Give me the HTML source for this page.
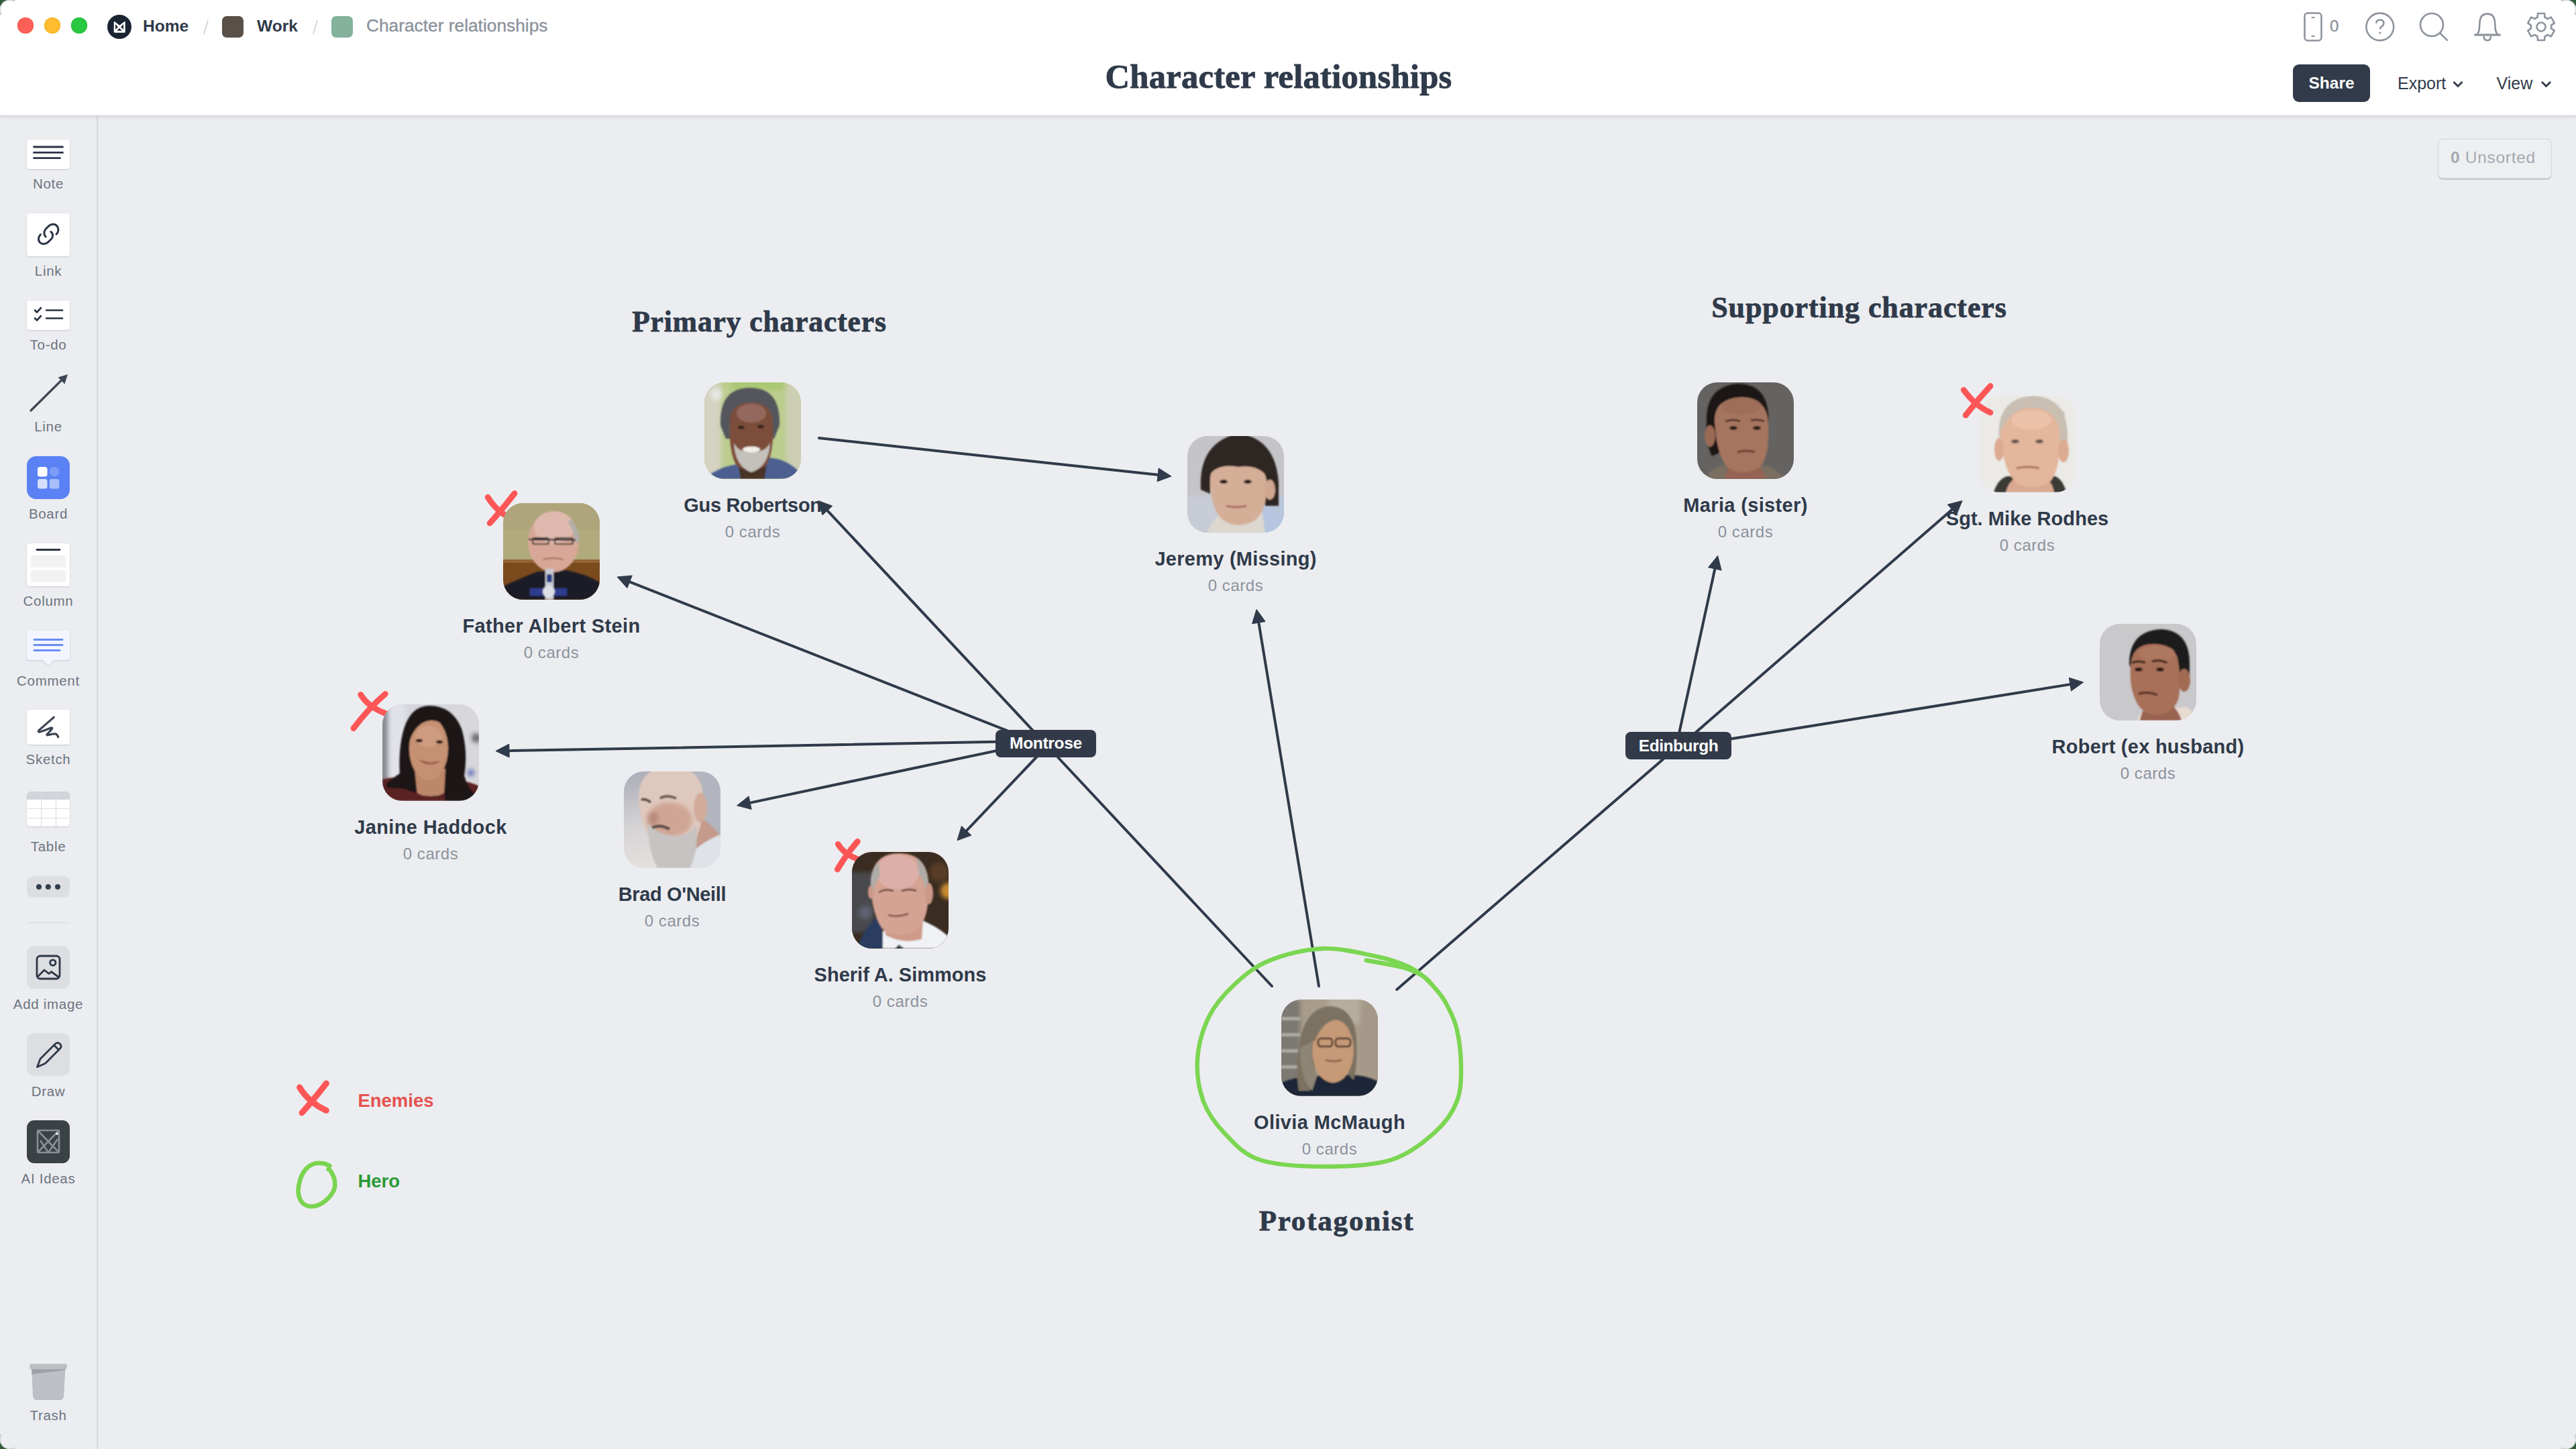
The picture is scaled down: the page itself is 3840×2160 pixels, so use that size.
<!DOCTYPE html>
<html><head><meta charset="utf-8"><title>Character relationships</title><style>
*{margin:0;padding:0;box-sizing:border-box}
html,body{width:3840px;height:2160px;overflow:hidden;background:#2f5d35}
#win{position:absolute;left:0;top:0;width:3840px;height:2160px;border-radius:14px;overflow:hidden;background:#ecedf0}
#wb{position:absolute;left:0;top:0;z-index:50;pointer-events:none}
#header{position:absolute;left:0;top:0;width:3840px;height:172px;background:#fff;box-shadow:0 1px 0 #cdd0d4, 0 2px 5px rgba(60,70,90,0.14);z-index:5}
#sidebar{position:absolute;left:0;top:0;width:146px;height:2160px;z-index:4}
#sbbg{position:absolute;left:0;top:172px;width:146px;height:1988px;background:#ecedf0;border-right:2px solid #d8d9dd;z-index:3}
#sidebar > div, #sidebar > svg{position:absolute}
.t{position:absolute;white-space:nowrap}
.ph{position:absolute;width:144px;height:144px;border-radius:30px;overflow:hidden}
.ph svg{display:block}
</style></head>
<body><div id="win">
<div id="sbbg"></div>
<div id="header">
<div style="position:absolute;left:26px;top:26px;width:24px;height:24px;border-radius:50%;background:#fe5f57;box-shadow:inset 0 0 0 0.5px #e2463f"></div>
<div style="position:absolute;left:66px;top:26px;width:24px;height:24px;border-radius:50%;background:#febc2e;box-shadow:inset 0 0 0 0.5px #e1a116"></div>
<div style="position:absolute;left:106px;top:26px;width:24px;height:24px;border-radius:50%;background:#28c840;box-shadow:inset 0 0 0 0.5px #1aab29"></div>
<div style="position:absolute;left:160px;top:22px;width:36px;height:36px;border-radius:50%;background:#1b2433"></div>
<svg style="position:absolute;left:156px;top:18px" width="44" height="44" viewBox="0 0 44 44"><path d="M14.6 14.2 L22.2 20 L29.8 14.2 Q30.4 14 30.4 15 L30.4 29.4 Q30.4 30.4 29.4 30.4 L15 30.4 Q14 30.4 14 29.4 L14 15 Q14 14 14.6 14.2 Z" fill="#fff" stroke="#fff" stroke-width="0.6" stroke-linejoin="round"/><path d="M16.1 17.9 L19.8 22.2 L16.1 26.1 Z M27.9 17.9 L24.2 22.2 L27.9 26.1 Z M18.2 27.7 L22 24 L25.8 27.7 Z" fill="#1b2433"/></svg>
<div class="t" style="left:213px;top:24.11px;font-size:24.5px;line-height:29.40px;color:#2f3a4a;font-weight:700;font-family:'Liberation Sans', sans-serif;letter-spacing:0px;">Home</div>
<svg style="position:absolute;left:300px;top:28px" width="14" height="26"><line x1="10" y1="2" x2="4" y2="23" stroke="#c9cdd3" stroke-width="1.6"/></svg>
<div style="position:absolute;left:331px;top:24px;width:32px;height:32px;border-radius:7px;background:#595048"></div>
<div class="t" style="left:383px;top:24.11px;font-size:24.5px;line-height:29.40px;color:#2f3a4a;font-weight:700;font-family:'Liberation Sans', sans-serif;letter-spacing:0px;">Work</div>
<svg style="position:absolute;left:463px;top:28px" width="14" height="26"><line x1="10" y1="2" x2="4" y2="23" stroke="#c9cdd3" stroke-width="1.6"/></svg>
<div style="position:absolute;left:494px;top:24px;width:32px;height:32px;border-radius:7px;background:#84b29b"></div>
<div class="t" style="left:546px;top:22.61px;font-size:26.3px;line-height:31.56px;color:#8b929c;font-weight:400;font-family:'Liberation Sans', sans-serif;letter-spacing:0px;-webkit-text-stroke:0.35px #8b929c;">Character relationships</div>
<div class="t" style="left:406px;width:3000px;text-align:center;top:83.96px;font-size:50.5px;line-height:60.60px;color:#2f3a4a;font-weight:700;font-family:'Liberation Serif', serif;letter-spacing:0.3px;-webkit-text-stroke:0.9px #2f3a4a;">Character relationships</div>
<svg style="position:absolute;left:3420px;top:10px" width="400" height="60" viewBox="3420 10 400 60">
<rect x="3435.5" y="19.5" width="25" height="41" rx="4.5" fill="none" stroke="#8d939c" stroke-width="2.6"/>
<line x1="3445.5" y1="26.2" x2="3450.5" y2="26.2" stroke="#8d939c" stroke-width="2"/>
<line x1="3445.5" y1="54" x2="3450.5" y2="54" stroke="#8d939c" stroke-width="2"/>
<circle cx="3547.8" cy="40" r="20.4" fill="none" stroke="#8d939c" stroke-width="2.6"/>
<path d="M3542.2 34.8 Q3542.6 29.6 3547.9 29.6 Q3553.4 29.8 3553.4 34.6 Q3553.2 38.2 3549.6 39.9 Q3548 40.8 3548 43.6" fill="none" stroke="#8d939c" stroke-width="2.5"/>
<circle cx="3547.9" cy="49" r="1.6" fill="#8d939c"/>
<circle cx="3625" cy="37" r="17" fill="none" stroke="#8d939c" stroke-width="2.6"/>
<line x1="3637.3" y1="49.3" x2="3648.6" y2="60.6" stroke="#8d939c" stroke-width="2.6"/>
<path d="M3692.5 51.5 Q3696 47 3696 40 L3696.6 32 Q3697.6 20.6 3707.8 20.6 Q3718 20.6 3719 32 L3719.6 40 Q3719.6 47 3723.2 51.5" fill="none" stroke="#8d939c" stroke-width="2.6" stroke-linejoin="round"/>
<rect x="3688.2" y="50.4" width="39.6" height="3.2" fill="#8d939c"/>
<path d="M3702.6 54 Q3702.6 60.2 3707.8 60.2 Q3713 60.2 3713 54" fill="none" stroke="#8d939c" stroke-width="2.6"/>
<g transform="translate(3788 40)">
<path d="M-5.45 -14.19 L-4.98 -19.99 L4.98 -19.99 L5.45 -14.19 A15.2 15.2 0 0 1 9.57 -11.81 L14.82 -14.31 L19.80 -5.68 L15.01 -2.38 A15.2 15.2 0 0 1 15.01 2.38 L19.80 5.68 L14.82 14.31 L9.57 11.81 A15.2 15.2 0 0 1 5.45 14.19 L4.98 19.99 L-4.98 19.99 L-5.45 14.19 A15.2 15.2 0 0 1 -9.57 11.81 L-14.82 14.31 L-19.80 5.68 L-15.01 2.38 A15.2 15.2 0 0 1 -15.01 -2.38 L-19.80 -5.68 L-14.82 -14.31 L-9.57 -11.81 A15.2 15.2 0 0 1 -5.45 -14.19 Z" fill="none" stroke="#8d939c" stroke-width="2.6" stroke-linejoin="round"/>
<circle cx="0" cy="0" r="6.5" fill="none" stroke="#8d939c" stroke-width="2.6"/>
</g>
</svg>
<div class="t" style="left:3473px;top:25.28px;font-size:24px;line-height:28.80px;color:#8d939c;font-weight:400;font-family:'Liberation Sans', sans-serif;letter-spacing:0px;-webkit-text-stroke:0.4px #8d939c;">0</div>
<div style="position:absolute;left:3418px;top:96px;width:115px;height:56px;border-radius:9px;background:#323b4a"></div>
<div class="t" style="left:1975.5px;width:3000px;text-align:center;top:109.11px;font-size:24.5px;line-height:29.40px;color:#ffffff;font-weight:700;font-family:'Liberation Sans', sans-serif;letter-spacing:0px;">Share</div>
<div class="t" style="left:3574px;top:108.64px;font-size:25px;line-height:30.00px;color:#2f3a4a;font-weight:400;font-family:'Liberation Sans', sans-serif;letter-spacing:0px;">Export</div>
<div class="t" style="left:3721.5px;top:108.64px;font-size:25px;line-height:30.00px;color:#2f3a4a;font-weight:400;font-family:'Liberation Sans', sans-serif;letter-spacing:0px;">View</div>
<svg style="position:absolute;left:3650px;top:115px" width="160" height="24" viewBox="3650 115 160 24"><path d="M3657.5 122 L3664 128.5 L3670.5 122" fill="none" stroke="#2f3a4a" stroke-width="2.8"/><path d="M3789 122 L3795.5 128.5 L3802 122" fill="none" stroke="#2f3a4a" stroke-width="2.8"/></svg>
</div>
<div id="sidebar">
<div style="position:absolute;left:40px;top:208px;width:64px;height:44px;border-radius:4px;background:#fff;box-shadow:0 1px 2px rgba(40,50,70,0.18), 0 0 0 0.5px rgba(40,50,70,0.05);"></div>
<svg style="position:absolute;left:40px;top:208px" width="64" height="44"><g stroke="#2a3444" stroke-width="2.8" stroke-linecap="round"><line x1="10.5" y1="11" x2="53.5" y2="11"/><line x1="10.5" y1="19.4" x2="53.5" y2="19.4"/><line x1="10.5" y1="27.6" x2="49.5" y2="27.6"/></g></svg>
<div class="t" style="left:-1428px;width:3000px;text-align:center;top:261.60px;font-size:20.5px;line-height:24.60px;color:#6b7380;font-weight:400;font-family:'Liberation Sans', sans-serif;letter-spacing:0.7px;">Note</div>
<div style="position:absolute;left:40px;top:318px;width:64px;height:64px;border-radius:4px;background:#fff;box-shadow:0 1px 2px rgba(40,50,70,0.18), 0 0 0 0.5px rgba(40,50,70,0.05);"></div>
<svg style="position:absolute;left:40px;top:318px" width="64" height="64" viewBox="0 0 64 64"><g fill="none" stroke="#2a3444" stroke-width="3" stroke-linecap="round"><path d="M28.2 35 C25 31.5 25 26.5 28.5 23 L33 18.7 C36.5 15.5 42 15.5 45 19 C48 22.5 47.5 28 44 31.2"/><path d="M20.5 31.5 C17 35 16.5 40.5 19.5 43.5 C22.5 46.5 28 46.5 31.5 43.2 L36 38.8 C39.5 35.5 39.5 30 35.8 27.6"/></g></svg>
<div class="t" style="left:-1428px;width:3000px;text-align:center;top:392.10px;font-size:20.5px;line-height:24.60px;color:#6b7380;font-weight:400;font-family:'Liberation Sans', sans-serif;letter-spacing:0.7px;">Link</div>
<div style="position:absolute;left:40px;top:448px;width:64px;height:44px;border-radius:4px;background:#fff;box-shadow:0 1px 2px rgba(40,50,70,0.18), 0 0 0 0.5px rgba(40,50,70,0.05);"></div>
<svg style="position:absolute;left:40px;top:448px" width="64" height="44" viewBox="0 0 64 44"><g fill="none" stroke="#2a3444" stroke-width="2.6" stroke-linecap="round" stroke-linejoin="round"><path d="M12 14.5 L15 17.5 L21 11"/><path d="M12 26.5 L15 29.5 L21 23"/><line x1="29" y1="14.5" x2="53" y2="14.5"/><line x1="29" y1="26.5" x2="53" y2="26.5"/></g></svg>
<div class="t" style="left:-1428px;width:3000px;text-align:center;top:501.60px;font-size:20.5px;line-height:24.60px;color:#6b7380;font-weight:400;font-family:'Liberation Sans', sans-serif;letter-spacing:0.7px;">To-do</div>
<svg style="position:absolute;left:40px;top:550px" width="64" height="70" viewBox="40 550 64 70"><line x1="46" y1="612" x2="94" y2="564.5" stroke="#3d4654" stroke-width="3.2" stroke-linecap="round"/><path d="M101 558 L86.6 562.6 L96.4 572.4 Z" fill="#3d4654"/></svg>
<div class="t" style="left:-1428px;width:3000px;text-align:center;top:623.60px;font-size:20.5px;line-height:24.60px;color:#6b7380;font-weight:400;font-family:'Liberation Sans', sans-serif;letter-spacing:0.7px;">Line</div>
<div style="position:absolute;left:40px;top:680px;width:64px;height:64px;border-radius:14px;background:#5a82f5;"></div>
<svg style="position:absolute;left:40px;top:680px" width="64" height="64"><rect x="16" y="16" width="14.5" height="14.5" rx="3.5" fill="#fff"/><circle cx="41" cy="23.2" r="7.2" fill="#7d9cf7"/><rect x="16" y="34" width="14.5" height="14.5" rx="3.5" fill="#d5defd"/><rect x="33.8" y="34" width="14.5" height="14.5" rx="3.5" fill="#aabffa"/></svg>
<div class="t" style="left:-1428px;width:3000px;text-align:center;top:753.60px;font-size:20.5px;line-height:24.60px;color:#6b7380;font-weight:400;font-family:'Liberation Sans', sans-serif;letter-spacing:0.7px;">Board</div>
<div style="position:absolute;left:40px;top:810px;width:64px;height:64px;border-radius:4px;background:#fff;box-shadow:0 1px 2px rgba(40,50,70,0.18), 0 0 0 0.5px rgba(40,50,70,0.05);"></div>
<svg style="position:absolute;left:40px;top:810px" width="64" height="64"><line x1="15" y1="9.5" x2="49" y2="9.5" stroke="#2a3444" stroke-width="2.8" stroke-linecap="round"/><rect x="6" y="18" width="52" height="18" fill="#f2f2f3"/><rect x="6" y="40" width="52" height="18" fill="#f2f2f3"/></svg>
<div class="t" style="left:-1428px;width:3000px;text-align:center;top:884.10px;font-size:20.5px;line-height:24.60px;color:#6b7380;font-weight:400;font-family:'Liberation Sans', sans-serif;letter-spacing:0.7px;">Column</div>
<svg style="position:absolute;left:36px;top:936px" width="72" height="60" viewBox="36 936 72 60"><defs><filter id="cs" x="-20%" y="-20%" width="140%" height="150%"><feDropShadow dx="0" dy="1" stdDeviation="0.8" flood-color="#283246" flood-opacity="0.2"/></filter></defs><path d="M45 940 L99 940 Q104 940 104 945 L104 979 Q104 984 99 984 L80 984 L72 992 L64 984 L45 984 Q40 984 40 979 L40 945 Q40 940 45 940 Z" fill="#f3f6fe" filter="url(#cs)"/><g stroke="#6a8ef4" stroke-width="2.8" stroke-linecap="round"><line x1="51" y1="953.5" x2="93" y2="953.5"/><line x1="51" y1="961.5" x2="93" y2="961.5"/><line x1="51" y1="969.5" x2="89" y2="969.5"/></g></svg>
<div class="t" style="left:-1428px;width:3000px;text-align:center;top:1002.60px;font-size:20.5px;line-height:24.60px;color:#6b7380;font-weight:400;font-family:'Liberation Sans', sans-serif;letter-spacing:0.7px;">Comment</div>
<div style="position:absolute;left:40px;top:1058px;width:64px;height:52px;border-radius:4px;background:#fff;box-shadow:0 1px 2px rgba(40,50,70,0.18), 0 0 0 0.5px rgba(40,50,70,0.05);"></div>
<svg style="position:absolute;left:40px;top:1058px" width="64" height="52" viewBox="0 0 64 52"><path d="M40.4 11.1 L18 30.6 Q15.8 33.6 19.6 33 Q28 30.4 36.6 26.8 Q38.8 26.6 36.8 29.4 L29.8 37 Q29.6 38.4 33 37.4 Q40 35.6 43 36 Q45.4 37 46.8 40.8" fill="none" stroke="#3b4452" stroke-width="3.2" stroke-linecap="round" stroke-linejoin="round"/></svg>
<div class="t" style="left:-1428px;width:3000px;text-align:center;top:1120.00px;font-size:20.5px;line-height:24.60px;color:#6b7380;font-weight:400;font-family:'Liberation Sans', sans-serif;letter-spacing:0.7px;">Sketch</div>
<div style="position:absolute;left:40px;top:1180px;width:64px;height:52px;border-radius:5px;background:#fff;overflow:hidden;box-shadow:0 1px 2px rgba(40,50,70,0.2)"><div style="position:absolute;left:0;top:0;width:64px;height:12px;background:#d1d4d9"></div><div style="position:absolute;left:20.5px;top:0;width:1px;height:52px;background:#dcdee2"></div><div style="position:absolute;left:42.8px;top:0;width:1px;height:52px;background:#dcdee2"></div><div style="position:absolute;left:0;top:25px;width:64px;height:1px;background:#dcdee2"></div><div style="position:absolute;left:0;top:38.5px;width:64px;height:1px;background:#dcdee2"></div></div>
<div class="t" style="left:-1428px;width:3000px;text-align:center;top:1249.60px;font-size:20.5px;line-height:24.60px;color:#6b7380;font-weight:400;font-family:'Liberation Sans', sans-serif;letter-spacing:0.7px;">Table</div>
<div style="position:absolute;left:40px;top:1306px;width:64px;height:32px;border-radius:9px;background:#dcdee2"></div>
<svg style="position:absolute;left:40px;top:1306px" width="64" height="32"><g fill="#343d4b"><circle cx="18" cy="16" r="4"/><circle cx="31.8" cy="16" r="4"/><circle cx="46" cy="16" r="4"/></g></svg>
<div style="position:absolute;left:40px;top:1374.5px;width:64px;height:1.5px;background:#d6d9dd"></div>
<div style="position:absolute;left:40px;top:1410px;width:64px;height:64px;border-radius:11px;background:#dcdee2"></div>
<svg style="position:absolute;left:40px;top:1410px" width="64" height="64" viewBox="0 0 64 64"><g fill="none" stroke="#2f3846" stroke-width="2.8" stroke-linejoin="round"><rect x="15" y="15" width="34" height="34" rx="5"/><circle cx="38.8" cy="25" r="4.2"/><path d="M16 46 L26 36 L33 41.5 L36.5 38.5 L48 47"/></g></svg>
<div class="t" style="left:-1428px;width:3000px;text-align:center;top:1484.60px;font-size:20.5px;line-height:24.60px;color:#6b7380;font-weight:400;font-family:'Liberation Sans', sans-serif;letter-spacing:0.7px;">Add image</div>
<div style="position:absolute;left:40px;top:1540px;width:64px;height:64px;border-radius:11px;background:#dcdee2"></div>
<svg style="position:absolute;left:40px;top:1540px" width="64" height="64" viewBox="0 0 64 64"><g fill="none" stroke="#2f3846" stroke-width="2.8" stroke-linejoin="round"><path d="M15.5 50.5 L20 38.5 L42.5 16 Q46 13 49.5 16.2 Q52.6 19.6 49.6 23 L27.5 45.2 Z"/><line x1="40.5" y1="18" x2="47.6" y2="25"/></g></svg>
<div class="t" style="left:-1428px;width:3000px;text-align:center;top:1614.60px;font-size:20.5px;line-height:24.60px;color:#6b7380;font-weight:400;font-family:'Liberation Sans', sans-serif;letter-spacing:0.7px;">Draw</div>
<div style="position:absolute;left:40px;top:1670px;width:64px;height:64px;border-radius:11px;background:#3a4245"></div>
<svg style="position:absolute;left:40px;top:1670px" width="64" height="64" viewBox="0 0 64 64"><g fill="none" stroke="#8a8f96" stroke-width="2.6"><rect x="16" y="15" width="32" height="33" rx="1.5"/><path d="M16 15 L48 48 M48 15 L16 48 M32 48 L20 30 M32 48 L46 28"/></g><circle cx="45" cy="20" r="1.8" fill="#fff"/></svg>
<div class="t" style="left:-1428px;width:3000px;text-align:center;top:1745.20px;font-size:20.5px;line-height:24.60px;color:#6b7380;font-weight:400;font-family:'Liberation Sans', sans-serif;letter-spacing:0.7px;">AI Ideas</div>
<svg style="position:absolute;left:40px;top:2028px" width="64" height="64" viewBox="40 2028 64 64"><rect x="44.2" y="2033" width="55.6" height="8" rx="1.8" fill="#bdbfc4"/><path d="M47 2041 L97.3 2041 L95.2 2081 Q94.8 2087 88.8 2087 L55.5 2087 Q49.5 2087 49.1 2081 Z" fill="#bdbfc4"/><path d="M47 2041 L97.3 2041 L97.2 2042.5 L47.4 2048.5 Z" fill="#9da2aa"/></svg>
<div class="t" style="left:-1428px;width:3000px;text-align:center;top:2097.60px;font-size:20.5px;line-height:24.60px;color:#6b7380;font-weight:400;font-family:'Liberation Sans', sans-serif;letter-spacing:0.7px;">Trash</div>
</div>
<div id="canvas"></div>
<div style="position:absolute;left:3635px;top:208px;width:168px;height:57px;border-radius:6px;background:#eeeff1;box-shadow:0 0 0 1.2px #d6d8dc, 0 2.5px 0 0.5px #c4c7cc"></div>
<div class="t" style="left:3653px;top:219.81px;font-size:24.5px;line-height:29.40px;color:#a4a9b1;font-weight:400;font-family:'Liberation Sans', sans-serif;letter-spacing:0.7px;"><b style="font-weight:700">0</b> Unsorted</div>
<div class="t" style="left:-368px;width:3000px;text-align:center;top:453.22px;font-size:43.5px;line-height:52.20px;color:#2f3a4a;font-weight:700;font-family:'Liberation Serif', serif;letter-spacing:0.9px;-webkit-text-stroke:0.8px #2f3a4a;">Primary characters</div>
<div class="t" style="left:1271.5px;width:3000px;text-align:center;top:433.05px;font-size:44px;line-height:52.80px;color:#2f3a4a;font-weight:700;font-family:'Liberation Serif', serif;letter-spacing:0.9px;-webkit-text-stroke:0.8px #2f3a4a;">Supporting characters</div>
<div class="t" style="left:492.5px;width:3000px;text-align:center;top:1793.89px;font-size:43px;line-height:51.60px;color:#2f3a4a;font-weight:700;font-family:'Liberation Serif', serif;letter-spacing:1.8px;-webkit-text-stroke:0.8px #2f3a4a;">Protagonist</div>
<svg style="position:absolute;left:0;top:0;z-index:1" width="3840" height="2160" viewBox="0 0 3840 2160">
<path d="M727.2 741.3 Q740.9 763.9 767.0 775.8" fill="none" stroke="#fd5657" stroke-width="8.8" stroke-linecap="round"/><path d="M767.0 735.5 Q746.4 762.1 730.2 779.9" fill="none" stroke="#fd5657" stroke-width="8.8" stroke-linecap="round"/><path d="M537.7 1035.5 Q549.1 1054.2 576.0 1064.0" fill="none" stroke="#fd5657" stroke-width="8.8" stroke-linecap="round"/><path d="M574.4 1034.5 Q549.3 1055.9 527.0 1085.7" fill="none" stroke="#fd5657" stroke-width="8.8" stroke-linecap="round"/><path d="M1249.3 1258.4 Q1258.3 1273.8 1282.0 1282.0" fill="none" stroke="#fd5657" stroke-width="8.8" stroke-linecap="round"/><path d="M1278.3 1254.5 Q1260.7 1274.8 1248.3 1296.0" fill="none" stroke="#fd5657" stroke-width="8.8" stroke-linecap="round"/>
<line x1="1221" y1="653" x2="1728.1" y2="708.1" stroke="#2f3a4a" stroke-width="4" stroke-linecap="round"/>
<path d="M1746 710 L1725.0 717.8 L1727.2 697.9 Z" fill="#2f3a4a" stroke="#2f3a4a" stroke-width="1" stroke-linejoin="round"/>
<line x1="1558.5" y1="1109" x2="1232.0" y2="759.6" stroke="#2f3a4a" stroke-width="4" stroke-linecap="round"/>
<path d="M1219.75 746.4 L1240.7 754.2 L1226.1 767.8 Z" fill="#2f3a4a" stroke="#2f3a4a" stroke-width="1" stroke-linejoin="round"/>
<line x1="1559" y1="1111.8" x2="936.7" y2="866.6" stroke="#2f3a4a" stroke-width="4" stroke-linecap="round"/>
<path d="M920 860 L942.3 858.0 L934.9 876.6 Z" fill="#2f3a4a" stroke="#2f3a4a" stroke-width="1" stroke-linejoin="round"/>
<line x1="1559" y1="1104.4" x2="757.0" y2="1119.2" stroke="#2f3a4a" stroke-width="4" stroke-linecap="round"/>
<path d="M739 1119.5 L758.8 1109.1 L759.2 1129.1 Z" fill="#2f3a4a" stroke="#2f3a4a" stroke-width="1" stroke-linejoin="round"/>
<line x1="1559" y1="1103.5" x2="1116.2" y2="1197.1" stroke="#2f3a4a" stroke-width="4" stroke-linecap="round"/>
<path d="M1098.6 1200.8 L1116.1 1186.9 L1120.2 1206.4 Z" fill="#2f3a4a" stroke="#2f3a4a" stroke-width="1" stroke-linejoin="round"/>
<line x1="1563.7" y1="1109" x2="1439.3" y2="1239.8" stroke="#2f3a4a" stroke-width="4" stroke-linecap="round"/>
<path d="M1426.9 1252.8 L1433.4 1231.4 L1447.9 1245.2 Z" fill="#2f3a4a" stroke="#2f3a4a" stroke-width="1" stroke-linejoin="round"/>
<line x1="1896" y1="1470" x2="1558.4" y2="1109" stroke="#2f3a4a" stroke-width="4" stroke-linecap="round"/>
<line x1="1966" y1="1470" x2="1876.0" y2="926.2" stroke="#2f3a4a" stroke-width="4" stroke-linecap="round"/>
<path d="M1873.1 908.4 L1886.2 926.5 L1866.5 929.8 Z" fill="#2f3a4a" stroke="#2f3a4a" stroke-width="1" stroke-linejoin="round"/>
<line x1="2082.3" y1="1475.1" x2="2502" y2="1112" stroke="#2f3a4a" stroke-width="4" stroke-linecap="round"/>
<line x1="2498.9" y1="1112" x2="2556.8" y2="846.0" stroke="#2f3a4a" stroke-width="4" stroke-linecap="round"/>
<path d="M2560.6 828.4 L2566.1 850.1 L2546.6 845.8 Z" fill="#2f3a4a" stroke="#2f3a4a" stroke-width="1" stroke-linejoin="round"/>
<line x1="2504.6" y1="1112" x2="2911.4" y2="758.3" stroke="#2f3a4a" stroke-width="4" stroke-linecap="round"/>
<path d="M2925 746.5 L2916.5 767.2 L2903.3 752.1 Z" fill="#2f3a4a" stroke="#2f3a4a" stroke-width="1" stroke-linejoin="round"/>
<line x1="2502" y1="1114" x2="3087.9" y2="1019.9" stroke="#2f3a4a" stroke-width="4" stroke-linecap="round"/>
<path d="M3105.7 1017 L3087.5 1030.0 L3084.4 1010.3 Z" fill="#2f3a4a" stroke="#2f3a4a" stroke-width="1" stroke-linejoin="round"/>
<path d="M2036.4 1431.5 C2045.4 1433.2 2076.4 1438.0 2090.6 1442.0 C2104.8 1446.0 2113.6 1450.2 2121.5 1455.2 C2129.4 1460.2 2132.5 1465.3 2138.0 1471.8 C2143.5 1478.2 2149.1 1483.8 2154.6 1493.9 C2160.1 1504.0 2167.3 1516.5 2171.2 1532.5 C2175.1 1548.5 2177.9 1571.8 2178.0 1590.0 C2178.1 1608.2 2178.0 1625.9 2171.7 1642.0 C2165.4 1658.1 2156.2 1672.3 2140.0 1686.8 C2123.8 1701.3 2101.8 1720.1 2074.7 1728.8 C2047.6 1737.5 2010.5 1739.0 1977.7 1739.0 C1944.9 1739.0 1903.3 1737.2 1878.0 1729.0 C1852.7 1720.8 1839.6 1704.0 1825.6 1689.5 C1811.6 1675.0 1800.8 1660.4 1794.0 1642.0 C1787.2 1623.6 1783.7 1600.0 1785.0 1579.0 C1786.3 1558.0 1793.0 1534.3 1802.0 1516.0 C1811.0 1497.7 1823.9 1482.9 1838.7 1469.0 C1853.5 1455.1 1868.8 1441.7 1891.0 1432.5 C1913.2 1423.3 1944.6 1415.0 1972.0 1414.0 C1999.4 1413.0 2034.0 1422.0 2055.2 1426.5 C2076.4 1431.0 2088.3 1436.1 2099.4 1440.9 C2110.5 1445.7 2115.1 1450.1 2121.5 1455.2 C2127.9 1460.3 2135.2 1469.0 2138.0 1471.8" fill="none" stroke="#7bd652" stroke-width="6.4" stroke-linecap="round" stroke-linejoin="round"/>
</svg>
<div style="position:absolute;left:0;top:0;z-index:2">
<div style="position:absolute;left:1484px;top:1088px;width:150px;height:41px;border-radius:8px;background:#323a49"></div><div class="t" style="left:59px;width:3000px;text-align:center;top:1093.41px;font-size:24.5px;line-height:29.40px;color:#ffffff;font-weight:700;font-family:'Liberation Sans', sans-serif;letter-spacing:-0.3px;">Montrose</div><div style="position:absolute;left:2423px;top:1091px;width:158px;height:41px;border-radius:8px;background:#323a49"></div><div class="t" style="left:1002px;width:3000px;text-align:center;top:1096.61px;font-size:24.5px;line-height:29.40px;color:#ffffff;font-weight:700;font-family:'Liberation Sans', sans-serif;letter-spacing:-0.45px;">Edinburgh</div><div class="t" style="left:533.4px;top:1623.57px;font-size:27.5px;line-height:33.00px;color:#e5524f;font-weight:700;font-family:'Liberation Sans', sans-serif;letter-spacing:0px;">Enemies</div><div class="t" style="left:533.4px;top:1743.57px;font-size:27.5px;line-height:33.00px;color:#2b9936;font-weight:700;font-family:'Liberation Sans', sans-serif;letter-spacing:0px;">Hero</div><div class="ph" style="left:1050px;top:570px"><svg width="144" height="144" viewBox="0 0 144 144"><defs><filter id="bl1" x="-30%" y="-30%" width="160%" height="160%"><feGaussianBlur stdDeviation="3"/></filter><filter id="bs1" x="-30%" y="-30%" width="160%" height="160%"><feGaussianBlur stdDeviation="1"/></filter></defs>
<rect width="144" height="144" fill="#bccd8e"/>
<g filter="url(#bl1)">
<rect x="-5" y="0" width="30" height="144" fill="#d4d2c0"/>
<rect x="122" y="0" width="26" height="144" fill="#cdcfb4"/>
<rect x="40" y="-4" width="80" height="16" fill="#aac874"/>
<circle cx="18" cy="18" r="9" fill="#e6e8e4"/>
</g>
<g filter="url(#bs1)">
<path d="M0 144 L10 136 Q30 124 50 122 L56 144 Z" fill="#4c6090"/>
<path d="M90 112 Q120 112 140 132 L144 144 L84 144 Z" fill="#4c6090"/>
<path d="M50 120 L94 112 L90 144 L54 144 Z" fill="#4a3026"/>
<path d="M24 64 Q22 8 68 8 Q114 8 112 64 L104 84 L32 84 Z" fill="#55575d"/>
<path d="M38 60 Q38 30 70 30 Q102 30 102 62 Q104 104 92 124 Q70 138 48 124 Q36 104 38 60 Z" fill="#7d4d3a"/>
<ellipse cx="70" cy="46" rx="22" ry="14" fill="#94695d"/>
<path d="M44 90 Q46 126 70 134 Q96 126 98 90 Q92 104 70 104 Q50 104 44 90 Z" fill="#c4c0ba"/>
<ellipse cx="70" cy="100" rx="13" ry="4.5" fill="#f2eee8"/>
<ellipse cx="55" cy="67" rx="5" ry="2.4" fill="#2e201b"/><ellipse cx="84" cy="66" rx="5" ry="2.4" fill="#2e201b"/>
</g></svg></div><div class="t" style="left:-378px;width:3000px;text-align:center;top:735.55px;font-size:29px;line-height:34.80px;color:#2f3a4a;font-weight:700;font-family:'Liberation Sans', sans-serif;letter-spacing:-0.3px;">Gus Robertson</div><div class="t" style="left:-378px;width:3000px;text-align:center;top:779.48px;font-size:24px;line-height:28.80px;color:#8a929d;font-weight:400;font-family:'Liberation Sans', sans-serif;letter-spacing:0.55px;">0 cards</div><div class="ph" style="left:1770px;top:650px"><svg width="144" height="144" viewBox="0 0 144 144"><defs><filter id="bl2" x="-30%" y="-30%" width="160%" height="160%"><feGaussianBlur stdDeviation="3"/></filter><filter id="bs2" x="-30%" y="-30%" width="160%" height="160%"><feGaussianBlur stdDeviation="1"/></filter></defs>
<rect width="144" height="144" fill="#c5c5c9"/>
<g filter="url(#bl2)"><rect x="0" y="90" width="50" height="54" fill="#c8ccd6"/><rect x="104" y="90" width="44" height="54" fill="#b8c6dc"/></g>
<g filter="url(#bs2)">
<path d="M30 144 Q36 122 56 114 L116 108 Q136 116 144 132 L144 144 Z" fill="#dcd8d0"/>
<path d="M110 104 Q132 112 144 128 L144 144 L116 144 Z" fill="#b6c6e0"/>
<path d="M20 80 Q16 10 76 -4 Q132 4 136 70 L136 104 L116 104 L112 70 L34 70 L34 86 Z" fill="#2e2723"/>
<path d="M34 62 Q36 36 76 38 Q114 38 118 66 Q120 112 100 126 Q76 140 54 126 Q34 110 34 62 Z" fill="#d5ae98"/>
<path d="M30 64 Q40 40 76 46 Q106 42 120 62 L122 38 Q100 14 76 14 Q44 14 30 40 Z" fill="#2e2723"/>
<ellipse cx="123" cy="80" rx="8" ry="15" fill="#cfa690"/>
<ellipse cx="54" cy="68" rx="6" ry="3" fill="#2a1e18"/><ellipse cx="90" cy="68" rx="6" ry="3" fill="#2a1e18"/>
<path d="M58 104 Q72 108 88 104" stroke="#a86a5c" stroke-width="3" fill="none"/>
</g></svg></div><div class="t" style="left:342px;width:3000px;text-align:center;top:815.55px;font-size:29px;line-height:34.80px;color:#2f3a4a;font-weight:700;font-family:'Liberation Sans', sans-serif;letter-spacing:0.27px;">Jeremy (Missing)</div><div class="t" style="left:342px;width:3000px;text-align:center;top:859.48px;font-size:24px;line-height:28.80px;color:#8a929d;font-weight:400;font-family:'Liberation Sans', sans-serif;letter-spacing:0.55px;">0 cards</div><div class="ph" style="left:750px;top:750px"><svg width="144" height="144" viewBox="0 0 144 144"><defs><filter id="bl3" x="-30%" y="-30%" width="160%" height="160%"><feGaussianBlur stdDeviation="3"/></filter><filter id="bs3" x="-30%" y="-30%" width="160%" height="160%"><feGaussianBlur stdDeviation="1"/></filter></defs>
<rect width="144" height="144" fill="#b1aa7d"/>
<rect x="0" y="0" width="144" height="40" fill="#aea57a"/>
<rect x="0" y="86" width="144" height="58" fill="#7b4b1d"/>
<rect x="0" y="84" width="144" height="5" fill="#936433"/>
<g filter="url(#bs3)">
<path d="M0 144 L0 124 Q30 110 52 102 L94 100 Q124 106 144 118 L144 144 Z" fill="#1b1d27"/>
<ellipse cx="75" cy="58" rx="38" ry="45" fill="#d8a797"/>
<ellipse cx="76" cy="36" rx="30" ry="24" fill="#e0b9ae"/>
<path d="M100 24 Q114 36 113 58 L106 58 Q106 40 96 28 Z" fill="#b3aeaa"/>
<path d="M38 54 L108 55" stroke="#2c2a2a" stroke-width="2.6"/>
<rect x="44" y="52" width="24" height="9" rx="3" fill="none" stroke="#2c2a2a" stroke-width="2"/>
<rect x="77" y="52" width="27" height="9" rx="3" fill="none" stroke="#2c2a2a" stroke-width="2"/>
<path d="M60 84 Q74 80 90 84" stroke="#9a6a5a" stroke-width="2" fill="none"/>
<rect x="63" y="98" width="12" height="46" fill="#c9ccd4"/>
<rect x="65" y="106" width="8" height="12" fill="#2a3a8a"/>
<rect x="40" y="127" width="55" height="11" fill="#2e3e8e"/>
<circle cx="68" cy="132" r="9" fill="#dcdfe5"/>
</g></svg></div><div class="t" style="left:-678px;width:3000px;text-align:center;top:915.55px;font-size:29px;line-height:34.80px;color:#2f3a4a;font-weight:700;font-family:'Liberation Sans', sans-serif;letter-spacing:0.35px;">Father Albert Stein</div><div class="t" style="left:-678px;width:3000px;text-align:center;top:959.48px;font-size:24px;line-height:28.80px;color:#8a929d;font-weight:400;font-family:'Liberation Sans', sans-serif;letter-spacing:0.55px;">0 cards</div><div class="ph" style="left:570px;top:1050px"><svg width="144" height="144" viewBox="0 0 144 144"><defs><filter id="bl4" x="-30%" y="-30%" width="160%" height="160%"><feGaussianBlur stdDeviation="3"/></filter><filter id="bs4" x="-30%" y="-30%" width="160%" height="160%"><feGaussianBlur stdDeviation="1"/></filter></defs>
<rect width="144" height="144" fill="#d6d6de"/>
<g filter="url(#bl4)">
<rect x="-6" y="0" width="14" height="144" fill="#8a8a94"/>
<rect x="12" y="0" width="22" height="144" fill="#e2e2ea"/>
<rect x="100" y="0" width="50" height="144" fill="#d8d8dc"/>
<circle cx="140" cy="50" r="8" fill="#707078"/>
<circle cx="132" cy="102" r="6" fill="#6a7cc0"/>
</g>
<g filter="url(#bs4)">
<path d="M0 144 L0 112 Q20 106 44 110 L100 112 Q130 114 144 122 L144 144 Z" fill="#5a2021"/>
<path d="M28 124 Q22 80 30 44 Q40 2 70 2 Q104 2 118 36 Q128 70 122 106 Q126 124 144 140 L144 144 L96 144 L44 130 Z" fill="#1e1918"/>
<path d="M6 118 Q18 108 30 100 L44 126 Q30 126 6 124 Z" fill="#1e1918"/>
<path d="M48 96 L94 96 L92 134 Q72 140 52 134 Z" fill="#bd8769"/>
<path d="M52 132 Q72 144 92 132 L94 144 L50 144 Z" fill="#5a2021"/>
<ellipse cx="69" cy="66" rx="29" ry="47" fill="#c69172"/>
<ellipse cx="69" cy="48" rx="20" ry="16" fill="#cf9c80"/>
<path d="M40 50 Q44 16 70 14 Q96 16 100 44 Q92 24 72 24 Q50 26 40 56 Z" fill="#1e1918"/>
<ellipse cx="55" cy="54" rx="5" ry="2.5" fill="#2a1a14"/><ellipse cx="85" cy="56" rx="5" ry="2.5" fill="#2a1a14"/>
<path d="M56 83 Q70 94 84 85 Q70 90 56 83 Z" fill="#f2e8e0" stroke="#9a5a4a" stroke-width="1.6"/>
</g></svg></div><div class="t" style="left:-858px;width:3000px;text-align:center;top:1215.55px;font-size:29px;line-height:34.80px;color:#2f3a4a;font-weight:700;font-family:'Liberation Sans', sans-serif;letter-spacing:0.35px;">Janine Haddock</div><div class="t" style="left:-858px;width:3000px;text-align:center;top:1259.48px;font-size:24px;line-height:28.80px;color:#8a929d;font-weight:400;font-family:'Liberation Sans', sans-serif;letter-spacing:0.55px;">0 cards</div><div class="ph" style="left:930px;top:1150px"><svg width="144" height="144" viewBox="0 0 144 144"><defs><filter id="bl5" x="-30%" y="-30%" width="160%" height="160%"><feGaussianBlur stdDeviation="3"/></filter><filter id="bs5" x="-30%" y="-30%" width="160%" height="160%"><feGaussianBlur stdDeviation="1"/></filter></defs>
<defs><linearGradient id="gb5" x1="0" y1="0" x2="0.2" y2="1"><stop offset="0" stop-color="#a9acb6"/><stop offset="0.55" stop-color="#d4d2d4"/><stop offset="1" stop-color="#e4e0de"/></linearGradient></defs>
<rect width="144" height="144" fill="url(#gb5)"/>
<g filter="url(#bl5)"><rect x="110" y="0" width="40" height="100" fill="#b2b5bd"/></g>
<g filter="url(#bs5)">
<path d="M100 60 Q130 76 144 96 L144 120 L100 116 Z" fill="#c49a8a"/>
<path d="M84 144 Q100 112 144 94 L144 144 Z" fill="#dfe2e8"/>
<path d="M22 40 Q22 -6 70 -8 Q118 -6 118 40 Q118 90 100 112 Q70 128 40 100 Q24 80 22 40 Z" fill="#dfc8bd"/>
<ellipse cx="114" cy="54" rx="10" ry="22" fill="#d2ab9b"/>
</g>
<g filter="url(#bl5)">
<ellipse cx="68" cy="72" rx="34" ry="26" fill="#cfa696"/>
<ellipse cx="44" cy="70" rx="8" ry="10" fill="#b88a7c"/>
</g>
<g filter="url(#bs5)">
<path d="M36 78 Q36 118 50 144 L98 144 Q112 118 108 80 Q96 98 74 96 Q52 94 36 78 Z" fill="#c6c3c2"/>
<path d="M42 84 Q54 78 68 86" stroke="#5a4a46" stroke-width="4" fill="none"/>
<path d="M54 40 Q64 34 78 40" stroke="#6a5650" stroke-width="3.5" fill="none"/>
<path d="M26 42 Q32 40 40 46" stroke="#5a4a44" stroke-width="3.5" fill="none"/>
</g></svg></div><div class="t" style="left:-498px;width:3000px;text-align:center;top:1315.55px;font-size:29px;line-height:34.80px;color:#2f3a4a;font-weight:700;font-family:'Liberation Sans', sans-serif;letter-spacing:-0.37px;">Brad O&#39;Neill</div><div class="t" style="left:-498px;width:3000px;text-align:center;top:1359.48px;font-size:24px;line-height:28.80px;color:#8a929d;font-weight:400;font-family:'Liberation Sans', sans-serif;letter-spacing:0.55px;">0 cards</div><div class="ph" style="left:1270px;top:1270px"><svg width="144" height="144" viewBox="0 0 144 144"><defs><filter id="bl6" x="-30%" y="-30%" width="160%" height="160%"><feGaussianBlur stdDeviation="3"/></filter><filter id="bs6" x="-30%" y="-30%" width="160%" height="160%"><feGaussianBlur stdDeviation="1"/></filter></defs>
<rect width="144" height="144" fill="#3a2c20"/>
<g filter="url(#bl6)">
<rect x="-6" y="30" width="40" height="90" fill="#4a4a4e"/>
<circle cx="20" cy="90" r="10" fill="#5e6270"/>
<circle cx="144" cy="58" r="12" fill="#c88a32"/>
<circle cx="130" cy="30" r="14" fill="#5a3e26"/>
</g>
<g filter="url(#bs6)">
<path d="M8 144 Q14 118 40 94 L50 144 Z" fill="#2c3c60"/>
<path d="M46 144 L46 118 Q70 110 100 100 Q126 110 144 126 L144 144 Z" fill="#f0f2f5"/>
<path d="M64 144 L70 138 L78 144 Z" fill="#3a4050"/>
<path d="M48 100 L106 100 L104 130 Q76 138 50 124 Z" fill="#cf9a88"/>
<path d="M28 50 Q28 2 70 2 Q114 2 114 50 Q116 100 96 118 Q72 130 48 118 Q30 96 28 50 Z" fill="#d5a393"/>
<ellipse cx="68" cy="30" rx="32" ry="26" fill="#dcb0a8"/>
<path d="M28 56 Q26 26 40 14 L42 36 Q34 44 33 58 Z" fill="#b0aca8"/>
<path d="M114 56 Q116 24 96 8 L100 34 Q108 42 109 56 Z" fill="#b0aca8"/>
<ellipse cx="115" cy="62" rx="6" ry="16" fill="#cc9888"/>
<ellipse cx="28" cy="60" rx="4" ry="10" fill="#cc9888"/>
<path d="M40 60 Q50 54 62 58" stroke="#5a3a30" stroke-width="2.5" fill="none"/><path d="M74 58 Q86 54 96 58" stroke="#5a3a30" stroke-width="2.5" fill="none"/>
<path d="M54 94 Q68 98 84 92" stroke="#7a4a40" stroke-width="2.5" fill="none"/>
</g></svg></div><div class="t" style="left:-158px;width:3000px;text-align:center;top:1435.55px;font-size:29px;line-height:34.80px;color:#2f3a4a;font-weight:700;font-family:'Liberation Sans', sans-serif;letter-spacing:0px;">Sherif A. Simmons</div><div class="t" style="left:-158px;width:3000px;text-align:center;top:1479.48px;font-size:24px;line-height:28.80px;color:#8a929d;font-weight:400;font-family:'Liberation Sans', sans-serif;letter-spacing:0.55px;">0 cards</div><div class="ph" style="left:1910px;top:1490px"><svg width="144" height="144" viewBox="0 0 144 144"><defs><filter id="bl7" x="-30%" y="-30%" width="160%" height="160%"><feGaussianBlur stdDeviation="3"/></filter><filter id="bs7" x="-30%" y="-30%" width="160%" height="160%"><feGaussianBlur stdDeviation="1"/></filter></defs>
<rect width="144" height="144" fill="#a89c8b"/>
<g filter="url(#bl7)">
<rect x="-4" y="0" width="32" height="144" fill="#7c7872"/>
<rect x="70" y="-4" width="50" height="40" fill="#b6ad9d"/>
<rect x="118" y="0" width="30" height="144" fill="#a49888"/>
</g>
<g filter="url(#bs7)">
<rect x="0" y="26" width="28" height="5" fill="#aeaaa4"/><rect x="0" y="50" width="28" height="5" fill="#aeaaa4"/><rect x="0" y="74" width="28" height="5" fill="#aeaaa4"/><rect x="0" y="98" width="28" height="5" fill="#aeaaa4"/>
<path d="M0 144 L0 124 Q24 114 50 114 L98 112 Q124 112 144 122 L144 144 Z" fill="#1e2839"/>
<path d="M26 136 Q20 96 28 58 Q40 10 74 10 Q108 12 112 58 Q114 96 108 120 Q96 110 96 96 L50 96 Q50 118 42 136 Z" fill="#7b7262"/>
<ellipse cx="77" cy="76" rx="31" ry="48" fill="#c69977"/>
<path d="M44 60 Q48 18 78 18 Q106 20 108 52 Q98 34 82 30 Q62 32 50 62 Z" fill="#7b7262"/>
<path d="M28 72 Q28 120 46 136 L54 112 Q42 94 46 62 Z" fill="#8d8575"/>
<rect x="55" y="58" width="21" height="12" rx="4" fill="none" stroke="#3a2a24" stroke-width="2.4"/>
<rect x="81" y="58" width="22" height="12" rx="4" fill="none" stroke="#3a2a24" stroke-width="2.4"/>
<path d="M66 90 Q78 94 90 90" stroke="#8a5a4a" stroke-width="2.5" fill="none"/>
</g></svg></div><div class="t" style="left:482px;width:3000px;text-align:center;top:1655.55px;font-size:29px;line-height:34.80px;color:#2f3a4a;font-weight:700;font-family:'Liberation Sans', sans-serif;letter-spacing:0.37px;">Olivia McMaugh</div><div class="t" style="left:482px;width:3000px;text-align:center;top:1699.48px;font-size:24px;line-height:28.80px;color:#8a929d;font-weight:400;font-family:'Liberation Sans', sans-serif;letter-spacing:0.55px;">0 cards</div><div class="ph" style="left:2530px;top:570px"><svg width="144" height="144" viewBox="0 0 144 144"><defs><filter id="bl8" x="-30%" y="-30%" width="160%" height="160%"><feGaussianBlur stdDeviation="3"/></filter><filter id="bs8" x="-30%" y="-30%" width="160%" height="160%"><feGaussianBlur stdDeviation="1"/></filter></defs>
<rect width="144" height="144" fill="#646361"/>
<g filter="url(#bs8)">
<path d="M10 144 Q20 128 40 122 L104 124 Q122 132 130 144 Z" fill="#7a6e60"/>
<path d="M40 144 Q46 118 70 116 Q96 118 102 144 Z" fill="#946452"/>
<path d="M14 60 Q12 6 60 2 Q104 2 106 50 L106 70 L22 110 Q12 90 14 60 Z" fill="#1c1816"/>
<path d="M26 60 Q24 24 66 22 Q104 22 106 62 Q108 110 94 126 Q72 140 50 130 Q30 118 26 60 Z" fill="#a6755e"/>
<ellipse cx="66" cy="36" rx="30" ry="12" fill="#9f6e58"/>
<ellipse cx="19" cy="80" rx="8" ry="16" fill="#9a6a54"/>
<ellipse cx="54" cy="68" rx="6" ry="3" fill="#2a1a14"/><ellipse cx="89" cy="68" rx="6" ry="3" fill="#2a1a14"/>
<path d="M42 58 Q54 54 64 58" stroke="#3a2620" stroke-width="2.5" fill="none"/><path d="M80 57 Q90 54 100 58" stroke="#3a2620" stroke-width="2.5" fill="none"/>
<path d="M60 104 Q74 100 86 104" stroke="#6a3a30" stroke-width="3" fill="none"/>
</g></svg></div><div class="t" style="left:1102px;width:3000px;text-align:center;top:735.55px;font-size:29px;line-height:34.80px;color:#2f3a4a;font-weight:700;font-family:'Liberation Sans', sans-serif;letter-spacing:0.34px;">Maria (sister)</div><div class="t" style="left:1102px;width:3000px;text-align:center;top:779.48px;font-size:24px;line-height:28.80px;color:#8a929d;font-weight:400;font-family:'Liberation Sans', sans-serif;letter-spacing:0.55px;">0 cards</div><div class="ph" style="left:2950px;top:590px"><svg width="144" height="144" viewBox="0 0 144 144"><defs><filter id="bl9" x="-30%" y="-30%" width="160%" height="160%"><feGaussianBlur stdDeviation="3"/></filter><filter id="bs9" x="-30%" y="-30%" width="160%" height="160%"><feGaussianBlur stdDeviation="1"/></filter></defs>
<rect width="144" height="144" fill="#ebeae7"/>
<g filter="url(#bs9)">
<path d="M22 144 Q28 124 42 120 L114 120 Q126 126 130 144 Z" fill="#3a3a36"/>
<path d="M40 144 Q46 118 76 116 Q108 118 112 144 Z" fill="#d8a890"/>
<path d="M30 62 Q26 4 80 0 Q132 2 132 60 L132 72 L118 72 L118 56 L38 56 L38 66 Z" fill="#c8bfb2"/>
<path d="M32 60 Q32 18 78 18 Q120 18 120 60 Q122 110 106 128 Q80 144 56 130 Q36 112 32 60 Z" fill="#e4b69c"/>
<ellipse cx="78" cy="36" rx="30" ry="14" fill="#ecc3aa"/>
<path d="M34 50 Q50 14 90 16 Q116 20 124 48 L128 26 Q110 4 78 4 Q42 6 32 34 Z" fill="#c8bfb2"/>
<ellipse cx="30" cy="80" rx="7" ry="17" fill="#dcaa90"/><ellipse cx="126" cy="82" rx="8" ry="17" fill="#dcaa90"/>
<ellipse cx="54" cy="68" rx="6" ry="3" fill="#6a5a52"/><ellipse cx="90" cy="68" rx="6" ry="3" fill="#6a5a52"/>
<path d="M56 108 Q74 104 90 108" stroke="#a87060" stroke-width="3" fill="none"/>
</g></svg></div><div class="t" style="left:1522px;width:3000px;text-align:center;top:755.55px;font-size:29px;line-height:34.80px;color:#2f3a4a;font-weight:700;font-family:'Liberation Sans', sans-serif;letter-spacing:0.05px;">Sgt. Mike Rodhes</div><div class="t" style="left:1522px;width:3000px;text-align:center;top:799.48px;font-size:24px;line-height:28.80px;color:#8a929d;font-weight:400;font-family:'Liberation Sans', sans-serif;letter-spacing:0.55px;">0 cards</div><div class="ph" style="left:3130px;top:930px"><svg width="144" height="144" viewBox="0 0 144 144"><defs><filter id="bl10" x="-30%" y="-30%" width="160%" height="160%"><feGaussianBlur stdDeviation="3"/></filter><filter id="bs10" x="-30%" y="-30%" width="160%" height="160%"><feGaussianBlur stdDeviation="1"/></filter></defs>
<rect width="144" height="144" fill="#c9c9cb"/>
<g filter="url(#bs10)">
<path d="M56 144 Q60 130 70 128 L130 124 Q140 132 144 144 Z" fill="#e8dcd0"/>
<path d="M60 144 Q64 118 86 114 Q114 116 122 144 Z" fill="#9a6450"/>
<path d="M44 60 Q44 10 92 8 Q134 10 134 60 L134 78 L118 80 L50 76 Z" fill="#1a1a1a"/>
<path d="M46 66 Q46 30 80 30 Q108 30 116 50 Q122 80 118 110 Q110 134 86 136 Q60 134 52 110 Q44 90 46 66 Z" fill="#a87058"/>
<ellipse cx="126" cy="84" rx="9" ry="17" fill="#a06a52"/>
<ellipse cx="86" cy="44" rx="26" ry="12" fill="#ae7860"/>
<ellipse cx="58" cy="68" rx="6" ry="3" fill="#2a1a14"/><ellipse cx="90" cy="68" rx="6" ry="3" fill="#2a1a14"/>
<path d="M48 58 Q58 54 68 58" stroke="#2a1a14" stroke-width="3" fill="none"/><path d="M78 56 Q90 52 100 58" stroke="#2a1a14" stroke-width="3" fill="none"/>
<path d="M58 104 Q72 100 86 106" stroke="#5a3028" stroke-width="3.5" fill="none"/>
</g></svg></div><div class="t" style="left:1702px;width:3000px;text-align:center;top:1095.55px;font-size:29px;line-height:34.80px;color:#2f3a4a;font-weight:700;font-family:'Liberation Sans', sans-serif;letter-spacing:0.26px;">Robert (ex husband)</div><div class="t" style="left:1702px;width:3000px;text-align:center;top:1139.48px;font-size:24px;line-height:28.80px;color:#8a929d;font-weight:400;font-family:'Liberation Sans', sans-serif;letter-spacing:0.55px;">0 cards</div>
</div>
<svg style="position:absolute;left:0;top:0;z-index:3;pointer-events:none" width="3840" height="2160" viewBox="0 0 3840 2160">
<path d="M2927.3 581.3 Q2944.2 604.9 2967.0 615.0" fill="none" stroke="#fd5657" stroke-width="8.8" stroke-linecap="round"/><path d="M2967.0 575.5 Q2947.4 596.8 2930.2 619.0" fill="none" stroke="#fd5657" stroke-width="8.8" stroke-linecap="round"/>
<path d="M446.6 1620.8 Q460.3 1643.4 486.4 1655.3" fill="none" stroke="#fd5657" stroke-width="9" stroke-linecap="round"/><path d="M486.4 1615.0 Q465.5 1641.9 450.1 1658.8" fill="none" stroke="#fd5657" stroke-width="9" stroke-linecap="round"/>
<path d="M491.5 1738.0 C490.1 1737.4 486.6 1735.0 483.0 1734.4 C479.4 1733.8 474.1 1733.1 469.7 1734.4 C465.3 1735.7 460.1 1738.2 456.4 1742.3 C452.7 1746.4 449.2 1752.8 447.3 1758.9 C445.4 1765.0 444.1 1772.9 444.8 1778.7 C445.5 1784.5 447.9 1790.3 451.5 1793.6 C455.1 1796.9 460.9 1798.8 466.4 1798.3 C471.9 1797.8 479.4 1794.4 484.6 1790.3 C489.8 1786.2 495.5 1779.0 497.8 1773.8 C500.1 1768.6 499.5 1763.6 498.7 1758.9 C497.9 1754.2 494.4 1748.2 492.9 1745.6 C491.4 1742.9 490.2 1743.4 489.6 1743.0" fill="none" stroke="#7bd450" stroke-width="6.6" stroke-linecap="round" stroke-linejoin="round"/>
</svg>
<svg id="wb" width="3840" height="2160" viewBox="0 0 3840 2160"><g fill="none" stroke="#cfd0d4" stroke-width="3"><path d="M1.5 22 A15 15 0 0 1 22 1.5"/><path d="M3818 1.5 A15 15 0 0 1 3838.5 22"/><path d="M1.5 2138 A15 15 0 0 0 22 2158.5"/><path d="M3818 2158.5 A15 15 0 0 0 3838.5 2138"/></g></svg>
</div></body></html>
